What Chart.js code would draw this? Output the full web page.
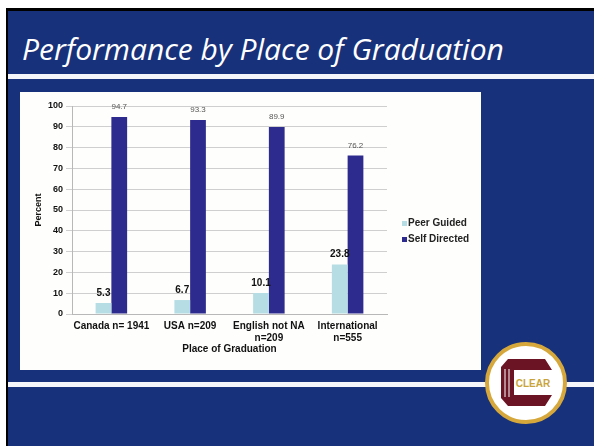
<!DOCTYPE html>
<html>
<head>
<meta charset="utf-8">
<script src="https://cdn.jsdelivr.net/npm/chart.js@4.4.1/dist/chart.umd.min.js"></script>
<style>
  html, body { margin: 0; padding: 0; background: #fff; }
  #slide { position: absolute; left: 6px; top: 8px; width: 586px; height: 435px;
           background: #17317a; border-left: 2px solid #000; border-top: 3px solid #000; overflow: hidden; }
  #title { position: absolute; left: 14px; top: 17px; color: #fff; white-space: nowrap;
           font-family: "Open Sans", sans-serif; font-style: italic; font-size: 30px; }
  .rule { position: absolute; left: 0; right: 0; height: 5px; background: #f3f5fa; }
  #box { position: absolute; left: 12px; top: 81px; width: 461px; height: 278px; background: #fefefc; }
  #logo { position: absolute; left: 474px; top: 320px; }
</style>
</head>
<body>
<div id="slide">
  <div id="title">Performance by Place of Graduation</div>
  <div class="rule" style="top:63px"></div>
  <div class="rule" style="top:371px"></div>
  <div id="box"><canvas id="chart" width="461" height="278"></canvas></div>
  <svg id="logo" width="112" height="115" viewBox="474 320 112 115">
    <circle cx="518" cy="372" r="39" fill="#fff" stroke="#d6a83c" stroke-width="4"/>
    <path d="M500 348 L537 348 L544 359 L506 359 L506 384 L544 384 L537 395 L500 395 L493 387 L493 356 Z" fill="#6a1424"/>
    <line x1="497" y1="358" x2="497" y2="386" stroke="#fff" stroke-width="1"/>
    <line x1="501" y1="358" x2="501" y2="386" stroke="#fff" stroke-width="1"/>
    <text x="525" y="376" text-anchor="middle" font-family="Liberation Sans" font-weight="bold" font-size="10" fill="#c9a43a">CLEAR</text>
  </svg>
</div>
<script>
var places = [["Canada n= 1941"], ["USA n=209"], ["English not NA", "n=209"], ["International", "n=555"]];
var peerGuided = [5.3, 6.7, 10.1, 23.8];
var selfDirected = [94.7, 93.3, 89.9, 76.2];
var yTicks = [0, 10, 20, 30, 40, 50, 60, 70, 80, 90, 100];

var FONT = "'Liberation Sans', Arial, sans-serif";

// value labels above each bar
var barLabels = {
    id: 'barLabels',
    afterDatasetsDraw: function (chart) {
        var ctx = chart.ctx;
        ctx.save();
        ctx.textAlign = 'center';
        ctx.textBaseline = 'middle';
        chart.data.datasets.forEach(function (ds, i) {
            var meta = chart.getDatasetMeta(i);
            meta.data.forEach(function (bar, j) {
                if (i === 0) {
                    ctx.font = 'bold 10px ' + FONT;
                    ctx.fillStyle = '#111';
                } else {
                    ctx.font = '8px ' + FONT;
                    ctx.fillStyle = '#555';
                }
                ctx.fillText(ds.data[j], bar.x, bar.y - 10);
            });
        });
        ctx.restore();
    }
};

// legend to the right of the plot
var sideLegend = {
    id: 'sideLegend',
    afterDraw: function (chart) {
        var ctx = chart.ctx;
        ctx.save();
        ctx.font = 'bold 10px ' + FONT;
        ctx.textBaseline = 'middle';
        chart.data.datasets.forEach(function (ds, i) {
            var y = 131 + i * 16;
            ctx.fillStyle = ds.backgroundColor;
            ctx.fillRect(382, y - 2, 5, 5);
            ctx.fillStyle = '#222';
            ctx.fillText(ds.label, 388, y);
        });
        ctx.restore();
    }
};

var ctx = document.getElementById('chart').getContext('2d');
var myChart = new Chart(ctx, {
    type: 'bar',
    data: {
        labels: places,
        datasets: [{
            label: 'Peer Guided',
            data: peerGuided,
            backgroundColor: '#b5dde3'
        },
        {
            label: 'Self Directed',
            data: selfDirected,
            backgroundColor: '#2d2b8e'
        }]
    },
    options: {
        responsive: false,
        animation: false,
        layout: { padding: { left: 11, top: 14, right: 94, bottom: 14 } },
        plugins: { legend: { display: false }, tooltip: { enabled: false } },
        datasets: { bar: { categoryPercentage: 0.4, barPercentage: 1.0 } },
        scales: {
            x: {
                grid: { display: false, drawTicks: false },
                border: { color: '#b8b8b8' },
                ticks: { color: '#111', padding: 6, maxRotation: 0, autoSkip: false,
                         font: { family: FONT, size: 10, weight: 'bold' } },
                title: { display: true, text: 'Place of Graduation', color: '#111', padding: { top: 2, bottom: 1 },
                         font: { family: FONT, size: 10, weight: 'bold' } },
                afterFit: function (s) { s.height = 42; }
            },
            y: {
                min: 0,
                max: 100,
                ticks: {
                    stepSize: 5,
                    color: '#111',
                    padding: 3,
                    font: { family: FONT, size: 9, weight: 'bold' },
                    callback: function (v) { return yTicks.indexOf(v) >= 0 ? v : ''; }
                },
                grid: {
                    tickLength: 6,
                    color: function (c) { return c.tick && c.tick.value % 10 === 0 ? '#cfcfcf' : '#e0e0e0'; }
                },
                border: { color: '#b8b8b8' },
                title: { display: true, text: 'Percent', color: '#111', padding: 2,
                         font: { family: FONT, size: 9, weight: 'bold' } },
                afterFit: function (s) { s.width = 41; }
            }
        }
    },
    plugins: [barLabels, sideLegend]
});
</script>
</body>
</html>
